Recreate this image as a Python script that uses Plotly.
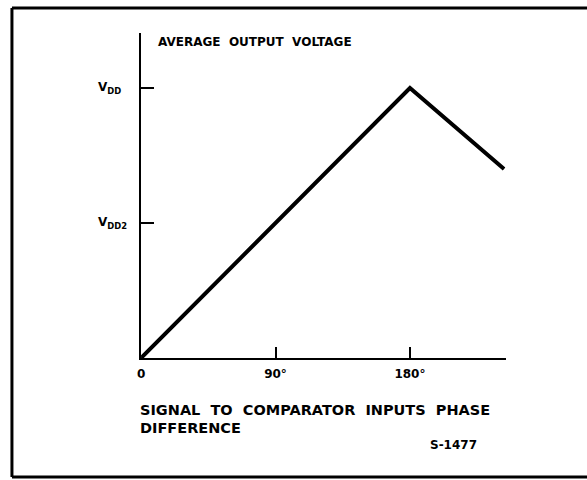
import plotly.graph_objects as go

# Data
phase_deg = [0, 180, 243]          # signal to comparator inputs phase difference
avg_voltage = [0.0, 1.0, 0.70]      # fraction of VDD

x_tick_vals = [0, 90, 180]
x_tick_text = ["0", "90°", "180°"]
y_tick_vals = [0.5, 1.0]
y_tick_text = ["V<sub>DD2</sub>", "V<sub>DD</sub>"]

W, H = 587, 480
FONT = "DejaVu Sans"

def px_x(p):
    return p / W

def px_y(p):
    return (H - p) / H

fig = go.Figure()
fig.add_trace(go.Scatter(
    x=phase_deg, y=avg_voltage, mode="lines",
    line=dict(color="black", width=4),
    hoverinfo="skip", showlegend=False, cliponaxis=False,
))

frame_line = dict(color="black", width=3)
fig.update_layout(
    width=W, height=H, autosize=False,
    margin=dict(l=0, r=0, t=0, b=0),
    paper_bgcolor="white", plot_bgcolor="white",
    font=dict(family=FONT, color="black", size=12, weight="bold"),
    xaxis=dict(
        domain=[px_x(138), px_x(505)], range=[0, 244],
        showline=True, linecolor="black", linewidth=2,
        showgrid=False, zeroline=False,
        tickmode="array", tickvals=x_tick_vals, ticktext=x_tick_text,
        ticks="inside", ticklen=11, tickwidth=1.5, tickcolor="black",
        tickfont=dict(family=FONT, size=12, color="black", weight="bold"),
        ticklabelstandoff=4,
        fixedrange=True,
    ),
    yaxis=dict(
        domain=[px_y(358), px_y(33)], range=[0, 1.204],
        showline=True, linecolor="black", linewidth=2,
        showgrid=False, zeroline=False,
        tickmode="array", tickvals=y_tick_vals,
        ticks="inside", ticklen=13, tickwidth=1.5, tickcolor="black",
        showticklabels=False,
        fixedrange=True,
    ),
    shapes=[
        dict(type="line", xref="paper", yref="paper",
             x0=px_x(8), x1=1, y0=px_y(8), y1=px_y(8), line=frame_line),
        dict(type="line", xref="paper", yref="paper",
             x0=px_x(8), x1=px_x(8), y0=px_y(8), y1=px_y(477), line=frame_line),
        dict(type="line", xref="paper", yref="paper",
             x0=px_x(8), x1=1, y0=px_y(477), y1=px_y(477), line=frame_line),
    ],
)

annotations = []
# y tick labels (left aligned, positioned on the y scale)
for v, t in zip(y_tick_vals, y_tick_text):
    annotations.append(dict(
        x=px_x(93), xref="paper", y=v, yref="y",
        text=t, showarrow=False, xanchor="left", yanchor="middle",
        font=dict(family=FONT, size=12, color="black", weight="bold"),
    ))

annotations += [
    dict(x=px_x(153), y=px_y(42), xref="paper", yref="paper",
         text="AVERAGE  OUTPUT  VOLTAGE", showarrow=False,
         xanchor="left", yanchor="middle",
         font=dict(family=FONT, size=12, color="black", weight="bold")),
    dict(x=px_x(135), y=px_y(410), xref="paper", yref="paper",
         text="SIGNAL  TO  COMPARATOR  INPUTS  PHASE", showarrow=False,
         xanchor="left", yanchor="middle",
         font=dict(family=FONT, size=14.5, color="black", weight="bold")),
    dict(x=px_x(135), y=px_y(428), xref="paper", yref="paper",
         text="DIFFERENCE", showarrow=False,
         xanchor="left", yanchor="middle",
         font=dict(family=FONT, size=14.5, color="black", weight="bold")),
    dict(x=px_x(427), y=px_y(445), xref="paper", yref="paper",
         text="S-1477", showarrow=False,
         xanchor="left", yanchor="middle",
         font=dict(family=FONT, size=12, color="black", weight="bold")),
]
fig.update_layout(annotations=annotations)

fig.write_html(
    "out.html",
    config={"displayModeBar": False},
    post_script="document.body.style.margin='0';document.body.style.overflow='hidden';",
)
